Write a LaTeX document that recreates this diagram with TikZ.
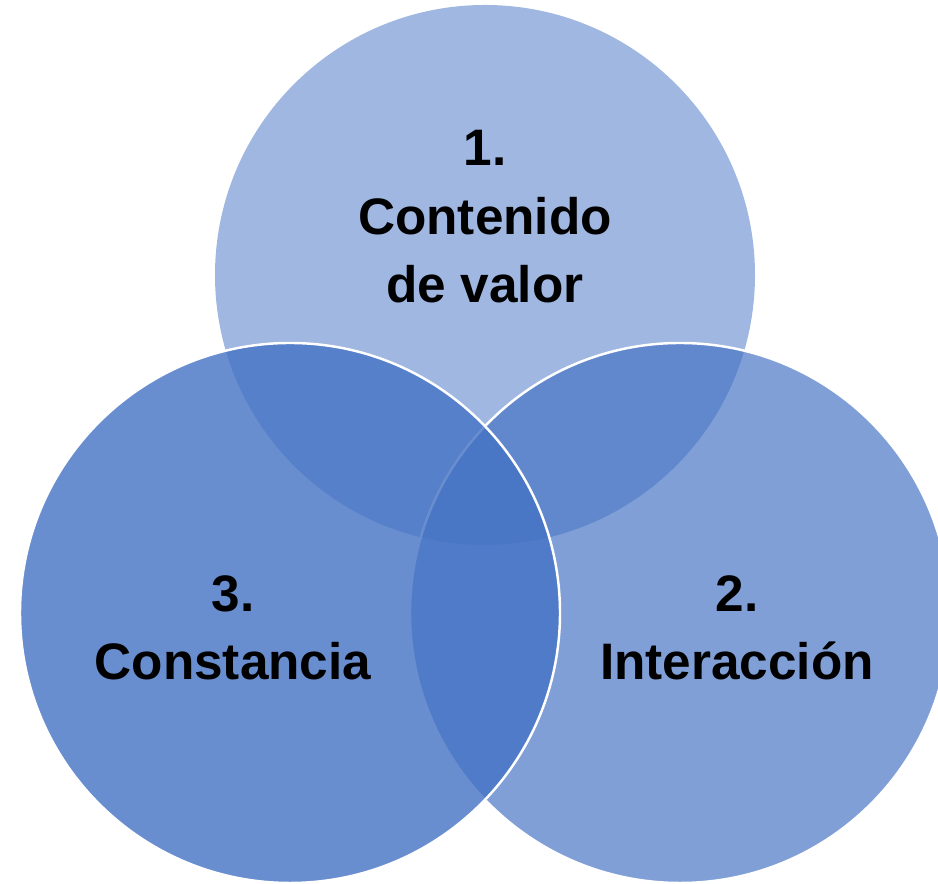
\documentclass[tikz,border=0pt]{standalone}
\usepackage{fontspec}
\setmainfont{Liberation Sans}
\usepackage{tikz}
\usepackage{tkz-euclide}
\definecolor{vennblue}{HTML}{4472C4}
\tikzset{
	venntext/.style={align=center, font=\fontsize{14.6}{19.5}\selectfont\bfseries, text=black},
	vennring/.style={draw=white, line width=0.7pt, fill=vennblue}
}

\begin{document}
\begin{tikzpicture}
							\useasboundingbox (0,0) rectangle (9.38,8.84);
							\tkzDefPoint(4.85,6.09){V};
							\tkzDefPoint(2.90,2.71){K};
							\tkzDefPoint(6.80,2.71){I};
							\tkzDefPoint(4.85,8.79){v};
							\tkzDefPoint(2.90,5.41){k};
							\tkzDefPoint(6.80,5.41){i};
							\begin{scope}
								\clip (0,0) rectangle (9.38,8.84);
								\tkzDrawCircle[draw=none, fill=vennblue, fill opacity=0.51](V,v);
								\tkzDrawCircle[vennring, fill opacity=0.68](I,i);
								\tkzDrawCircle[vennring, fill opacity=0.80](K,k);
							\end{scope}
							
							\node[venntext] (valor) at (4.85,6.67) {1.\\Contenido\\de valor};
							\node[venntext] (interaccion) at (7.37,2.56) {2.\\Interacción};
							\node[venntext] (constancia) at (2.33,2.56) {3.\\Constancia};
						\end{tikzpicture}
\end{document}
